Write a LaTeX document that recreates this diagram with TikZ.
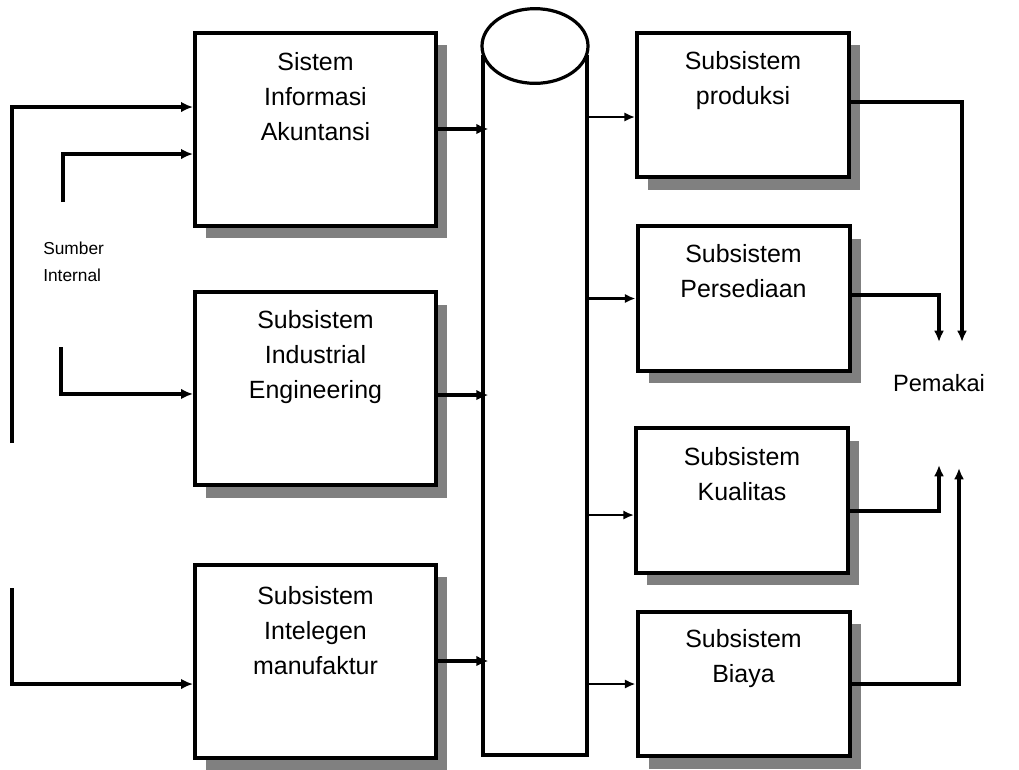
\documentclass[tikz,border=0pt]{standalone}
\usepackage{fontspec}
\setmainfont{Liberation Sans}
\usetikzlibrary{arrows.meta,shadows}
\begin{document}
\begin{tikzpicture}[x=0.75pt,y=-0.75pt,
  shadowed/.style={drop shadow={shadow xshift=8.5pt, shadow yshift=-9.5pt, fill=black!50, opacity=1}},
  lbox/.style={draw, line width=3pt, fill=white, inner sep=0pt, minimum width=180.75pt, minimum height=144.75pt, shadowed},
  rbox/.style={draw, line width=3pt, fill=white, inner sep=0pt, minimum width=159pt, minimum height=108.4pt, shadowed},
  btext/.style={anchor=north, inner sep=0pt, align=center, font=\fontsize{18.7pt}{26.25pt}\selectfont},
  inp/.style={line width=3pt, -{Latex[length=9pt,width=8pt]}},
  rarr/.style={line width=2pt, -{Latex[length=8pt,width=7pt]}},
  outp/.style={line width=2.5pt, -{Latex[length=8.5pt,width=7.5pt]}},
  cyl/.style={line width=2.4pt}
]
\useasboundingbox (0,0) rectangle (1019,769);

% left boxes
\node[lbox] (sia) at (315.5,129) {};
\node[lbox] (ie) at (315.5,388.5) {};
\node[lbox] (im) at (315.5,661) {};
\node[btext, yshift=-16pt] (siat) at (sia.north) {Sistem\\Informasi\\Akuntansi};
\node[btext, yshift=-15pt] (iet) at (ie.north) {Subsistem\\Industrial\\Engineering};
\node[btext, yshift=-18pt] (imt) at (im.north) {Subsistem\\Intelegen\\manufaktur};

% right boxes
\node[rbox] (prod) at (743,105) {};
\node[rbox] (pers) at (743.5,298.5) {};
\node[rbox] (kual) at (742,500.5) {};
\node[rbox] (biaya) at (743.5,684) {};
\node[btext, yshift=-15.5pt] (prodt) at (prod.north) {Subsistem\\produksi};
\node[btext, yshift=-15pt] (perst) at (pers.north) {Subsistem\\Persediaan};
\node[btext, yshift=-15.5pt] (kualt) at (kual.north) {Subsistem\\Kualitas};
\node[btext, yshift=-14.5pt] (biayat) at (biaya.north) {Subsistem\\Biaya};

% cylinder (database)
\node[inner sep=0pt, outer sep=0pt, minimum width=78pt, minimum height=525pt] (bus) at (535,405) {};
\draw[cyl] (bus.north west) -- (bus.south west) -- (bus.south east) -- (bus.north east);
\draw[cyl, fill=white] (bus.north) ++(0,-9) ellipse [x radius=39.75pt, y radius=28pt];

% texts
\node[anchor=west, inner sep=0pt, align=left, font=\fontsize{13pt}{20.25pt}\selectfont] (sumber) at (43,262) {Sumber\\Internal};
\node[inner sep=0pt, font=\fontsize{17.7pt}{21pt}\selectfont] (pemakai) at (939,383) {Pemakai};

% inputs from Sumber Internal
\coordinate (s1) at (12,443);
\coordinate (s2) at (63,202);
\coordinate (s3) at (61,347);
\coordinate (s4) at (12,588);
\draw[inp] (s1) |- ([yshift=16.5pt]sia.west);
\draw[inp] (s2) |- ([yshift=-18.75pt]sia.west);
\draw[inp] (s3) |- ([yshift=-4.1pt]ie.west);
\draw[inp] (s4) |- ([yshift=-17.25pt]im.west);

% left boxes to cylinder
\coordinate (b1) at (sia.east);
\coordinate (b2) at ([yshift=-4.9pt]ie.east);
\coordinate (b3) at (im.east);
\draw[inp] (b1) -- ([xshift=4pt]b1 -| bus.west);
\draw[inp] (b2) -- ([xshift=4pt]b2 -| bus.west);
\draw[inp] (b3) -- ([xshift=4pt]b3 -| bus.west);

% cylinder to right boxes
\coordinate (r1) at ([yshift=-9pt]prod.west);
\coordinate (r2) at (pers.west);
\coordinate (r3) at ([yshift=-10.9pt]kual.west);
\coordinate (r4) at (biaya.west);
\draw[rarr] (r1 -| bus.east) -- (r1);
\draw[rarr] (r2 -| bus.east) -- (r2);
\draw[rarr] (r3 -| bus.east) -- (r3);
\draw[rarr] (r4 -| bus.east) -- (r4);

% outputs to Pemakai
\coordinate (o1) at (962,342);
\coordinate (o2) at (939,342);
\coordinate (o3) at (939,465);
\coordinate (o4) at (959,468);
\draw[outp] ([yshift=2.25pt]prod.east) -| (o1);
\draw[outp] ([yshift=2.6pt]pers.east) -| (o2);
\draw[outp] ([yshift=-7.9pt]kual.east) -| (o3);
\draw[outp] (biaya.east) -| (o4);
\end{tikzpicture}
\end{document}
